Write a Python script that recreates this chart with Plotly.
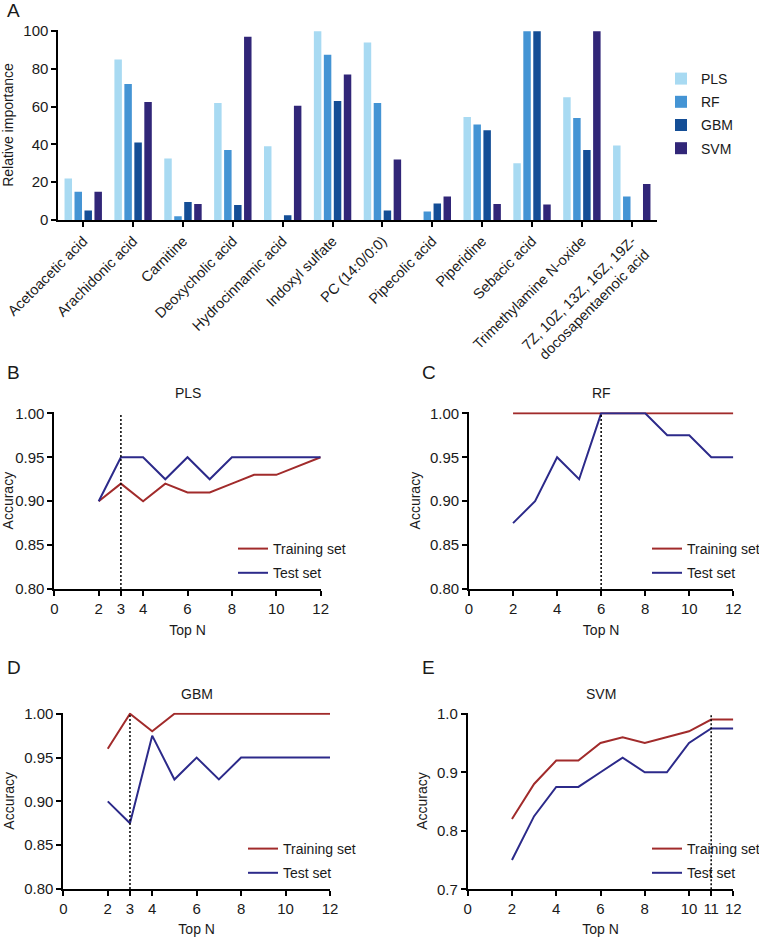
import plotly.graph_objects as go

# ---------------- Data ----------------
metabolites = ["Acetoacetic acid", "Arachidonic acid", "Carnitine", "Deoxycholic acid",
               "Hydrocinnamic acid", "Indoxyl sulfate", "PC (14:0/0:0)", "Pipecolic acid",
               "Piperidine", "Sebacic acid", "Trimethylamine N-oxide",
               "7Z, 10Z, 13Z, 16Z, 19Z-<br>docosapentaenoic acid"]
imp_pls = [22, 85, 32.5, 62, 39, 100, 94, 0, 54.5, 30, 65, 39.5]
imp_rf = [15, 72, 2, 37, 0, 87.5, 62, 4.5, 50.5, 100, 54, 12.5]
imp_gbm = [5, 41, 9.5, 8, 2.5, 63, 5, 8.8, 47.5, 100, 37, 0]
imp_svm = [15, 62.5, 8.5, 97, 60.5, 77, 32, 12.5, 8.5, 8.2, 100, 19]

top_n = [2, 3, 4, 5, 6, 7, 8, 9, 10, 11, 12]
pls_train = [0.90, 0.92, 0.90, 0.92, 0.91, 0.91, 0.92, 0.93, 0.93, 0.94, 0.95]
pls_test = [0.90, 0.95, 0.95, 0.925, 0.95, 0.925, 0.95, 0.95, 0.95, 0.95, 0.95]
rf_train = [1.00, 1.00, 1.00, 1.00, 1.00, 1.00, 1.00, 1.00, 1.00, 1.00, 1.00]
rf_test = [0.875, 0.90, 0.95, 0.925, 1.00, 1.00, 1.00, 0.975, 0.975, 0.95, 0.95]
gbm_train = [0.96, 1.00, 0.98, 1.00, 1.00, 1.00, 1.00, 1.00, 1.00, 1.00, 1.00]
gbm_test = [0.90, 0.875, 0.975, 0.925, 0.95, 0.925, 0.95, 0.95, 0.95, 0.95, 0.95]
svm_train = [0.82, 0.88, 0.92, 0.92, 0.95, 0.96, 0.95, 0.96, 0.97, 0.99, 0.99]
svm_test = [0.75, 0.825, 0.875, 0.875, 0.90, 0.925, 0.90, 0.90, 0.95, 0.975, 0.975]
best_n = {"PLS": 3, "RF": 6, "GBM": 3, "SVM": 11}

# ---------------- Style ----------------
FONT = "Liberation Sans, Arial, sans-serif"
TXT = "#1a1a1a"
C_PLS, C_RF, C_GBM, C_SVM = "#A8DAF2", "#4494D4", "#144E96", "#312678"
C_TRAIN, C_TEST = "#A12B2B", "#2C2A8A"
W, H = 759, 937

def px_x(v):
    return v / W

def px_y(v):
    return 1 - v / H

fig = go.Figure()

# ---------------- Panel A ----------------
for name, vals, col in [("PLS", imp_pls, C_PLS), ("RF", imp_rf, C_RF),
                        ("GBM", imp_gbm, C_GBM), ("SVM", imp_svm, C_SVM)]:
    fig.add_trace(go.Bar(x=metabolites, y=vals, name=name, marker_color=col,
                         marker_line_width=0, xaxis="x", yaxis="y", legend="legend",
                         legendgroup=name))

def axis_common(tsize=15):
    return dict(showline=True, linecolor="black", linewidth=1.8, ticks="outside",
                tickwidth=1.6, ticklen=5, tickcolor="black", showgrid=False,
                zeroline=False, automargin=False,
                tickfont=dict(family=FONT, size=tsize, color=TXT),
                title_font=dict(family=FONT, size=14, color=TXT))

fig.update_layout(
    barmode="group", bargap=0.2, bargroupgap=0.25,
    xaxis=dict(domain=[px_x(58.3), px_x(656.7)], anchor="y", tickangle=-45,
               range=[-0.5, 11.5], **axis_common(14.5)),
    yaxis=dict(domain=[px_y(220), px_y(30)], anchor="x", range=[0, 100.6],
               tickvals=[0, 20, 40, 60, 80, 100], title_text="Relative importance",
               title_standoff=7, **axis_common()),
)

# ---------------- Panels B-E ----------------
panels = [
    ("PLS", pls_train, pls_test, (54.3, 320.7), (589, 412.3), [0.80, 1.0012],
     [0.80, 0.85, 0.90, 0.95, 1.00], ".2f", [0, 2, 3, 4, 6, 8, 10, 12], "2"),
    ("RF", rf_train, rf_test, (469, 733.3), (589, 412.3), [0.80, 1.0012],
     [0.80, 0.85, 0.90, 0.95, 1.00], ".2f", [0, 2, 4, 6, 8, 10, 12], "3"),
    ("GBM", gbm_train, gbm_test, (63.3, 330), (889, 712.7), [0.80, 1.0012],
     [0.80, 0.85, 0.90, 0.95, 1.00], ".2f", [0, 2, 3, 4, 6, 8, 10, 12], "4"),
    ("SVM", svm_train, svm_test, (467.7, 733.3), (889.3, 712.7), [0.70, 1.0018],
     [0.7, 0.8, 0.9, 1.0], ".1f", [0, 2, 4, 6, 8, 10, 11, 12], "5"),
]

legend_pos = {"2": (233, 545), "3": (647, 545), "4": (243, 845), "5": (647, 845)}

layout_extra = {}
annotations = []
shapes = []
for key, tr, te, (x0, x1), (yb, yt), yr, ytv, yfmt, xtv, n in panels:
    xa, ya = "x" + n, "y" + n
    lg = "legend" + n
    fig.add_trace(go.Scatter(x=top_n, y=tr, mode="lines", name="Training set",
                             line=dict(color=C_TRAIN, width=2), xaxis=xa, yaxis=ya,
                             legend=lg, legendgroup=key + "tr"))
    fig.add_trace(go.Scatter(x=top_n, y=te, mode="lines", name="Test set",
                             line=dict(color=C_TEST, width=2), xaxis=xa, yaxis=ya,
                             legend=lg, legendgroup=key + "te"))
    layout_extra["xaxis" + n] = dict(domain=[px_x(x0), px_x(x1)], anchor=ya, range=[0, 12],
                                     tickvals=xtv, title_text="Top N", title_standoff=9,
                                     **axis_common())
    layout_extra["yaxis" + n] = dict(domain=[px_y(yb), px_y(yt)], anchor=xa, range=yr,
                                     tickvals=ytv, tickformat=yfmt, title_text="Accuracy",
                                     title_standoff=6, **axis_common())
    lx, ly = legend_pos[n]
    layout_extra[lg] = dict(x=px_x(lx), y=px_y(ly - 12), xanchor="left", yanchor="top",
                            bgcolor="rgba(0,0,0,0)", traceorder="grouped",
                            tracegroupgap=3,
                            font=dict(family=FONT, size=14, color=TXT))
    annotations.append(dict(text=key, x=(x0 + x1) / 2 / W, y=px_y(yt - 19), xref="paper",
                            yref="paper", showarrow=False, xanchor="center", yanchor="middle",
                            font=dict(family=FONT, size=14, color=TXT)))
    shapes.append(dict(type="line", xref=xa, yref=ya, x0=best_n[key], x1=best_n[key],
                       y0=yr[0], y1=1.0, line=dict(color="black", width=1.5, dash="2px,2px")))

fig.update_layout(**layout_extra)

for lab, x, y in [("A", 5, 10), ("B", 5, 372), ("C", 420, 372), ("D", 5, 667), ("E", 420, 667)]:
    annotations.append(dict(text=lab, x=px_x(x), y=px_y(y), xref="paper", yref="paper",
                            showarrow=False, xanchor="left", yanchor="middle",
                            font=dict(family=FONT, size=19, color=TXT)))

fig.update_layout(
    width=W, height=H, margin=dict(l=0, r=0, t=0, b=0, autoexpand=False),
    paper_bgcolor="white", plot_bgcolor="white",
    showlegend=True,
    legend=dict(x=px_x(661), y=px_y(63), xanchor="left", yanchor="top",
                bgcolor="rgba(0,0,0,0)", traceorder="grouped", tracegroupgap=2,
                font=dict(family=FONT, size=14, color=TXT)),
    annotations=annotations, shapes=shapes,
    font=dict(family=FONT, color=TXT),
)

fig.write_html("out.html", config={"displayModeBar": False},
               post_script="document.body.style.margin='0';document.body.style.overflow='hidden';")
